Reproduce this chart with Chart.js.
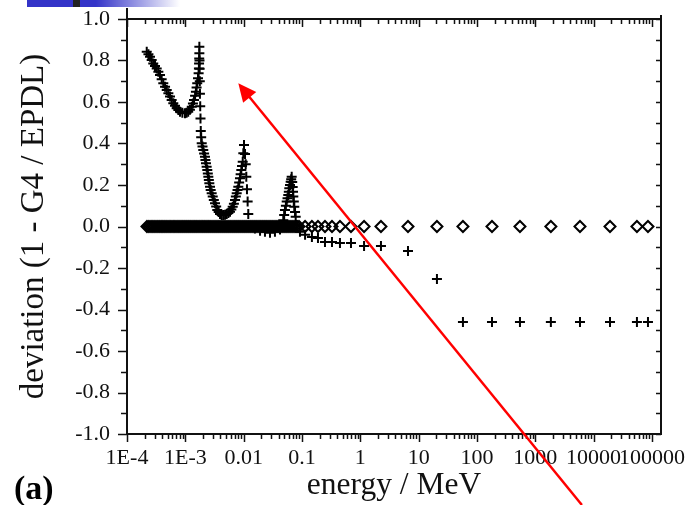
<!DOCTYPE html>
<html>
<head>
<meta charset="utf-8">
<script src="https://cdn.jsdelivr.net/npm/chart.js@4.4.1/dist/chart.umd.min.js"></script>
<style>
html,body{margin:0;padding:0;background:#fff;}
#wrap{position:relative;width:689px;height:505px;overflow:hidden;}
#bar{position:absolute;left:27px;top:0;width:153px;height:7px;background:linear-gradient(to right,#3434c8 0%,#3434c8 45%,#ffffff 100%);}
#bar i{position:absolute;left:46px;top:0;width:7px;height:7px;background:#222;}
</style>
</head>
<body>
<div id="wrap">
<canvas id="c" width="689" height="505"></canvas>
<div id="bar"><i></i></div>
</div>
<script>
// "+" series : energy (MeV) and deviation
const crossE=[
  2.18e-4,2.33e-4,2.48e-4,2.65e-4,2.82e-4,3.02e-4,3.23e-4,3.45e-4,3.68e-4,3.93e-4,
  4.19e-4,4.49e-4,4.80e-4,5.12e-4,5.46e-4,5.83e-4,6.22e-4,6.65e-4,7.11e-4,7.59e-4,
  8.10e-4,8.9e-4,9.87e-4,1.05e-3,1.12e-3,1.20e-3,1.29e-3,1.35e-3,1.41e-3,1.47e-3,
  1.52e-3,1.56e-3,1.60e-3,1.65e-3,1.69e-3,1.71e-3,1.72e-3,1.73e-3,1.74e-3,1.74e-3,
  1.75e-3,1.76e-3,1.77e-3,1.78e-3,1.80e-3,1.82e-3,1.84e-3,1.87e-3,1.91e-3,1.97e-3,
  2.03e-3,2.10e-3,2.17e-3,2.21e-3,2.26e-3,2.32e-3,2.38e-3,2.43e-3,2.48e-3,2.53e-3,
  2.58e-3,2.65e-3,2.72e-3,2.83e-3,2.95e-3,3.08e-3,3.23e-3,3.38e-3,3.53e-3,3.73e-3,
  3.93e-3,4.2e-3,4.48e-3,4.8e-3,5.12e-3,5.47e-3,5.83e-3,6.15e-3,6.49e-3,6.8e-3,
  7.11e-3,7.35e-3,7.60e-3,7.85e-3,8.10e-3,8.37e-3,8.65e-3,8.88e-3,9.12e-3,9.38e-3,
  9.64e-3,9.87e-3,1.014e-2,1.055e-2,1.084e-2,1.11e-2,1.14e-2,1.17e-2,1.20e-2,1.24e-2,
  1.56e-2,1.91e-2,2.32e-2,2.83e-2,3.44e-2,4.20e-2,4.78e-2,4.95e-2,5.11e-2,5.3e-2,
  5.47e-2,5.65e-2,5.82e-2,5.95e-2,6.06e-2,6.23e-2,6.40e-2,6.53e-2,6.66e-2,6.8e-2,
  6.93e-2,7.02e-2,7.10e-2,7.24e-2,7.38e-2,7.6e-2,7.80e-2,8.11e-2,9.24e-2,0.113,
  0.148,0.188,0.248,0.327,0.448,0.692,1.16,2.26,6.57,20.6,
  57.5,181,546,1850,5840,19100,55300,85500];
const crossDev=[
  0.842,0.830,0.818,0.802,0.786,0.774,0.762,0.746,0.730,0.710,
  0.690,0.674,0.658,0.642,0.626,0.610,0.594,0.582,0.570,0.561,
  0.553,0.548,0.546,0.548,0.553,0.563,0.577,0.593,0.610,0.630,
  0.650,0.670,0.690,0.714,0.738,0.762,0.786,0.810,0.835,0.866,
  0.80,0.76,0.70,0.64,0.58,0.52,0.46,0.43,0.401,0.385,
  0.369,0.352,0.336,0.32,0.305,0.288,0.272,0.256,0.240,0.224,
  0.208,0.192,0.176,0.16,0.144,0.128,0.112,0.096,0.080,0.07,
  0.060,0.056,0.055,0.057,0.060,0.065,0.071,0.082,0.095,0.11,
  0.128,0.144,0.160,0.176,0.192,0.212,0.232,0.252,0.272,0.292,
  0.312,0.353,0.393,0.35,0.30,0.24,0.18,0.12,0.06,0.0,
  -0.01,-0.02,-0.025,-0.03,-0.025,-0.015,0.03,0.055,0.08,0.10,
  0.12,0.136,0.152,0.168,0.184,0.20,0.216,0.228,0.24,0.215,
  0.19,0.167,0.144,0.12,0.095,0.07,0.047,0.007,-0.025,-0.04,
  -0.05,-0.055,-0.075,-0.075,-0.08,-0.08,-0.094,-0.094,-0.118,-0.253,
  -0.46,-0.46,-0.46,-0.46,-0.46,-0.46,-0.46,-0.46];

// open diamond series
const diamondE=[2.20e-4,2.38e-4,2.58e-4,2.79e-4,3.02e-4,3.27e-4,3.54e-4,3.83e-4,4.14e-4,4.48e-4,4.85e-4,5.25e-4,5.68e-4,6.15e-4,
  6.65e-4,7.20e-4,7.79e-4,8.43e-4,9.12e-4,9.87e-4,1.068e-3,1.156e-3,1.251e-3,1.354e-3,1.465e-3,1.585e-3,1.716e-3,1.857e-3,
  2.009e-3,2.174e-3,2.353e-3,2.546e-3,2.755e-3,2.982e-3,3.227e-3,3.492e-3,3.778e-3,4.089e-3,4.425e-3,4.788e-3,5.182e-3,
  5.607e-3,6.068e-3,6.567e-3,7.106e-3,7.688e-3,8.320e-3,9.004e-3,9.744e-3,1.054e-2,1.141e-2,1.235e-2,1.336e-2,1.446e-2,
  1.565e-2,1.693e-2,1.833e-2,1.983e-2,2.146e-2,2.322e-2,2.513e-2,2.720e-2,2.943e-2,3.185e-2,3.447e-2,3.730e-2,4.036e-2,
  4.368e-2,4.727e-2,5.115e-2,5.534e-2,5.990e-2,6.481e-2,7.014e-2,7.590e-2,8.213e-2,8.889e-2,
  0.113,0.148,0.188,0.248,0.327,0.448,0.692,1.16,2.26,6.57,20.6,57.5,181,546,1850,5840,19100,55300,85500];
const diamondDev=[0,0,0,0,0,0,0,0,0,0,0,0,0,0,0,0,0,0,0,0,0,0,0,0,0,0,0,0,0,0,0,0,0,0,0,0,0,0,0,0,0,0,0,0,0,0,0,0,0,0,
  0,0,0,0,0,0,0,0,0,0,0,0,0,0,0,0,0,0,0,0,0,0,0,0,0,0,0,0,0,0,0,0,0,0,0,0,0,0,0,0,0,0,0,0,0,0];

const xTicks=[1e-4,1e-3,0.01,0.1,1,10,100,1000,10000,100000];
const xTickLabels=["1E-4","1E-3","0.01","0.1","1","10","100","1000","10000","100000"];
const xMin=1e-4, xMax=1.43e5;
const yMin=-1, yMax=1, yStep=0.2;

// red arrow, in data coordinates
const arrowFrom={x:6300,y:-1.342};
const arrowTo={x:0.0081,y:0.69};

const serif='"Liberation Serif","Times New Roman",serif';

function pts(xs,ys){ return xs.map((v,i)=>({x:v,y:ys[i]})); }

const frame={
  id:'frame',
  afterDraw(chart){
    const ctx=chart.ctx, a=chart.chartArea, x=chart.scales.x, y=chart.scales.y;
    ctx.save();
    ctx.strokeStyle='#111';
    ctx.lineWidth=1.5;
    ctx.beginPath();
    // x ticks, bottom outward and top inward
    for(let n=-4;n<=5;n++){
      for(let k=1;k<=9;k++){
        const v=k*Math.pow(10,n);
        if(v>xMax) break;
        const px=Math.round(x.getPixelForValue(v))+0.5;
        const len=k===1?8:5;
        ctx.moveTo(px,a.bottom); ctx.lineTo(px,a.bottom+len);
        ctx.moveTo(px,a.top); ctx.lineTo(px,a.top+len);
      }
    }
    // y ticks, left outward and right inward
    for(let i=0;i<=20;i++){
      const v=-1+i*0.1;
      const py=Math.round(y.getPixelForValue(v))+0.5;
      const major=i%2===0;
      ctx.moveTo(a.left,py); ctx.lineTo(a.left-(major?9:6),py);
      ctx.moveTo(a.right,py); ctx.lineTo(a.right-5,py);
    }
    ctx.stroke();

    ctx.lineWidth=2;
    ctx.beginPath();
    ctx.moveTo(a.left,8); ctx.lineTo(a.left,a.bottom); ctx.lineTo(a.right,a.bottom); ctx.lineTo(a.right,15);
    ctx.moveTo(a.left,a.top); ctx.lineTo(a.right,a.top);
    ctx.stroke();

    ctx.fillStyle='#000';
    ctx.font='bold 34px '+serif;
    ctx.textBaseline='alphabetic';
    ctx.textAlign='left';
    ctx.fillText('(a)',14,499);

    // arrow
    const x0=x.getPixelForValue(arrowFrom.x), y0=y.getPixelForValue(arrowFrom.y);
    const x1=x.getPixelForValue(arrowTo.x), y1=y.getPixelForValue(arrowTo.y);
    const L=Math.hypot(x1-x0,y1-y0), ux=(x1-x0)/L, uy=(y1-y0)/L;
    const head=18, half=8.5;
    ctx.strokeStyle='#ff0000'; ctx.fillStyle='#ff0000';
    ctx.lineWidth=2.5;
    ctx.beginPath();
    ctx.moveTo(x0,y0); ctx.lineTo(x1-ux*(head-3),y1-uy*(head-3));
    ctx.stroke();
    const bx=x1-ux*head, by=y1-uy*head;
    ctx.beginPath();
    ctx.moveTo(x1,y1);
    ctx.lineTo(bx-uy*half,by+ux*half);
    ctx.lineTo(bx+uy*half,by-ux*half);
    ctx.closePath();
    ctx.fill();
    ctx.restore();
  }
};

new Chart(document.getElementById('c'),{
  type:'scatter',
  data:{datasets:[
    {data:pts(diamondE,diamondDev),pointStyle:'rectRot',pointRadius:5.5,borderWidth:2,
     borderColor:'#000',backgroundColor:'rgba(0,0,0,0)'},
    {data:pts(crossE,crossDev),pointStyle:'cross',pointRadius:5,borderWidth:2,
     borderColor:'#000',backgroundColor:'#000'}
  ]},
  options:{
    responsive:false,
    animation:false,
    devicePixelRatio:1,
    events:[],
    layout:{padding:{left:0,right:28,top:19,bottom:0}},
    plugins:{legend:{display:false},tooltip:{enabled:false}},
    scales:{
      x:{
        type:'logarithmic',min:xMin,max:xMax,position:'bottom',
        grid:{display:false,drawTicks:false},border:{display:false},
        afterBuildTicks(s){ s.ticks=xTicks.map(v=>({value:v})); },
        afterFit(s){ s.height=71; s.paddingLeft=0; s.paddingRight=0; },
        ticks:{autoSkip:false,maxRotation:0,minRotation:0,padding:11,color:'#111',
          font:{family:serif,size:22},
          callback:(v,i)=>xTickLabels[i]},
        title:{display:true,text:'energy / MeV',color:'#111',padding:{top:0,bottom:0},
          font:{family:serif,size:31.5}}
      },
      y:{
        type:'linear',min:yMin,max:yMax,
        grid:{display:false,drawTicks:false},border:{display:false},
        afterFit(s){ s.width=127; s.paddingTop=0; s.paddingBottom=0; },
        ticks:{stepSize:yStep,padding:17,color:'#111',font:{family:serif,size:22},
          callback:v=>Math.abs(v)<1e-9?'0.0':Number(v).toFixed(1)},
        title:{display:true,text:'deviation (1 - G4 / EPDL)',color:'#111',padding:{top:15,bottom:0},
          font:{family:serif,size:33}}
      }
    }
  },
  plugins:[frame]
});
</script>
</body>
</html>
